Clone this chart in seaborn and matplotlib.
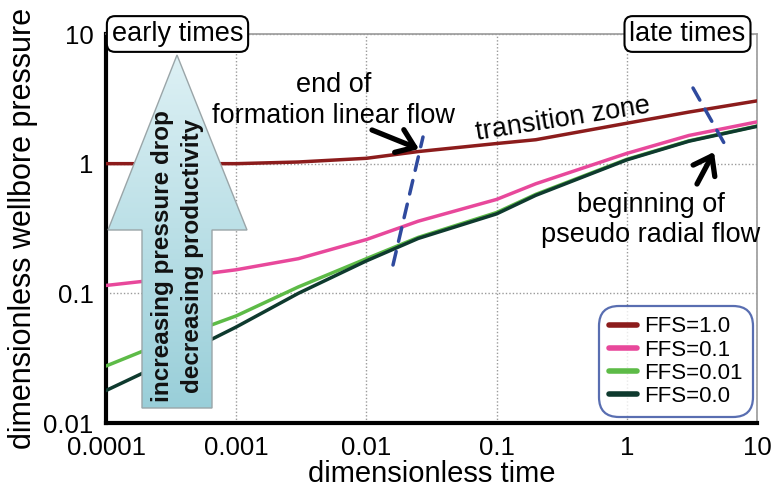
import numpy as np
import pandas as pd
import matplotlib
matplotlib.use("Agg")
import matplotlib.pyplot as plt
import seaborn as sns
from matplotlib.patches import Polygon
from matplotlib.lines import Line2D

# ---------------- data ----------------
time = [0.0001, 0.0003, 0.001, 0.003, 0.01, 0.025, 0.1, 0.2, 1.0, 3.0, 10.0]
ffs_1_0 = [1.0, 1.0, 1.0, 1.03, 1.1, 1.24, 1.43, 1.53, 2.05, 2.5, 3.05]
ffs_0_1 = [0.115, 0.13, 0.152, 0.185, 0.26, 0.36, 0.53, 0.7, 1.2, 1.65, 2.1]
ffs_0_01 = [0.0275, 0.043, 0.067, 0.112, 0.185, 0.27, 0.42, 0.58, 1.08, 1.5, 1.95]
ffs_0_0 = [0.0178, 0.030, 0.055, 0.100, 0.178, 0.265, 0.41, 0.57, 1.07, 1.49, 1.94]
series_names = ["FFS=1.0", "FFS=0.1", "FFS=0.01", "FFS=0.0"]
series_colors = ["#8c1c1c", "#e8489b", "#5dbb47", "#0e3a2e"]
x_ticks = [0.0001, 0.001, 0.01, 0.1, 1, 10]
x_ticklabels = ["0.0001", "0.001", "0.01", "0.1", "1", "10"]
y_ticks = [0.01, 0.1, 1, 10]
y_ticklabels = ["0.01", "0.1", "1", "10"]

rows = []
for name, vals in zip(series_names, [ffs_1_0, ffs_0_1, ffs_0_01, ffs_0_0]):
    for t, v in zip(time, vals):
        rows.append({"time": t, "pressure": v, "series": name})
df = pd.DataFrame(rows)

# ---------------- figure ----------------
sns.set_style("white")
plt.rcParams["font.family"] = ["Liberation Sans", "DejaVu Sans"]
plt.rcParams["text.color"] = "black"
plt.rcParams["axes.labelcolor"] = "black"
plt.rcParams["xtick.color"] = "black"
plt.rcParams["ytick.color"] = "black"

W, H = 781, 490
fig = plt.figure(figsize=(W / 100, H / 100), dpi=100)
ax = fig.add_axes([106 / W, 1 - 423 / H, (757 - 106) / W, (423 - 34) / H])

sns.lineplot(data=df, x="time", y="pressure", hue="series",
             hue_order=series_names, palette=series_colors,
             linewidth=2.5, ax=ax, legend=False, zorder=3)

ax.set_xscale("log")
ax.set_yscale("log")
ax.set_xlim(0.0001, 10)
ax.set_ylim(0.01, 10)
ax.set_xticks(x_ticks)
ax.set_xticklabels(x_ticklabels)
ax.set_yticks(y_ticks)
ax.set_yticklabels(y_ticklabels)
ax.minorticks_off()
ax.tick_params(axis="both", which="major", direction="out", length=7,
               width=2.2, color="black", labelcolor="black", labelsize=18.5, pad=2)
ax.grid(True, which="major", linestyle=(0, (1, 1.5)), color="#9a9a9a", linewidth=1.0)

for side in ["left", "bottom"]:
    ax.spines[side].set_color("black")
    ax.spines[side].set_linewidth(3)
for side in ["top", "right"]:
    ax.spines[side].set_color("#9a9a9a")
    ax.spines[side].set_linewidth(1.2)

ax.set_xlabel("dimensionless time", fontsize=21, labelpad=0, color="black")
ax.set_ylabel("dimensionless wellbore pressure", fontsize=22, labelpad=4, color="black")

# legend
handles = [Line2D([0], [0], color=c, lw=4) for c in series_colors]
leg = ax.legend(handles, series_names, loc="lower right",
                bbox_to_anchor=((753 - 106) / 651, (423 - 417) / 389),
                fontsize=16, handlelength=1.25, handletextpad=0.35,
                labelspacing=0.1, borderpad=0.45, borderaxespad=0,
                frameon=True, fancybox=True, labelcolor="black")
fr = leg.get_frame()
fr.set_edgecolor("#2f4a9e")
fr.set_linewidth(1.6)
fr.set_boxstyle("round,pad=0,rounding_size=0.9")
leg.set_zorder(6)

def fp(px, py):
    return (px, H - py)

# dashed boundary lines
for (x0, y0), (x1, y1) in [((393, 265), (423, 137)), ((693, 88), (728, 150))]:
    ax.annotate("", xy=fp(x1, y1), xycoords="figure pixels",
                xytext=fp(x0, y0), textcoords="figure pixels",
                arrowprops=dict(arrowstyle="-", color="#2f4a9e", lw=2.5,
                                linestyle=(0, (4, 3)), shrinkA=0, shrinkB=0),
                zorder=5)

# black pointing arrows
for (x0, y0), (x1, y1) in [((372, 130), (419, 149)), ((697, 184), (714, 152))]:
    ax.annotate("", xy=fp(x1, y1), xycoords="figure pixels",
                xytext=fp(x0, y0), textcoords="figure pixels",
                arrowprops=dict(arrowstyle="->,head_length=0.55,head_width=0.4",
                                color="black", lw=3.8, shrinkA=0, shrinkB=0,
                                mutation_scale=22),
                zorder=5)

# annotation texts
tkw = dict(xycoords="figure pixels", ha="center", va="center", fontsize=19.5,
           color="black", zorder=5)
ax.annotate("end of", fp(334, 85), **tkw)
ax.annotate("formation linear flow", fp(334, 116), **tkw)
ax.annotate("transition zone", fp(563, 119), rotation=9, **tkw)
ax.annotate("beginning of", fp(651, 205), **tkw)
ax.annotate("pseudo radial flow", fp(651, 235), **tkw)

# early / late time boxes
for label, cx in [("early times", 177.5), ("late times", 687.5)]:
    ax.annotate(label, fp(cx, 34), xycoords="figure pixels", ha="center",
                va="center", fontsize=19.5, color="black", zorder=7,
                bbox=dict(boxstyle="round,pad=0.18,rounding_size=0.3",
                          fc="white", ec="black", lw=1.5))

# big gradient arrow
ax2 = fig.add_axes([107 / W, 1 - 409 / H, 141 / W, 355 / H], zorder=4)
ax2.set_xlim(107, 248)
ax2.set_ylim(409, 54)
ax2.axis("off")
verts = [(177, 55), (247, 230), (212, 230), (212, 408), (142, 408),
         (142, 230), (108, 230)]
c_top = np.array([0.87, 0.945, 0.96])
c_bot = np.array([0.60, 0.81, 0.85])
tgrad = np.linspace(0, 1, 256)[:, None]
img = c_top[None, None, :] * (1 - tgrad[:, :, None]) + c_bot[None, None, :] * tgrad[:, :, None]
img = np.repeat(img, 2, axis=1)
im = ax2.imshow(img, extent=[107, 248, 409, 54], aspect="auto", zorder=1)
poly = Polygon(verts, closed=True, fc="none", ec="#9aa5a8", lw=1.0, zorder=2)
ax2.add_patch(poly)
im.set_clip_path(poly)
ax2.text(163, 256, "increasing pressure drop", rotation=90, ha="center",
         va="center", fontsize=17.5, fontweight="bold", color="#111111", zorder=3)
ax2.text(193, 256, "decreasing productivity", rotation=90, ha="center",
         va="center", fontsize=17.5, fontweight="bold", color="#111111", zorder=3)

fig.savefig("out.png", dpi=100)
